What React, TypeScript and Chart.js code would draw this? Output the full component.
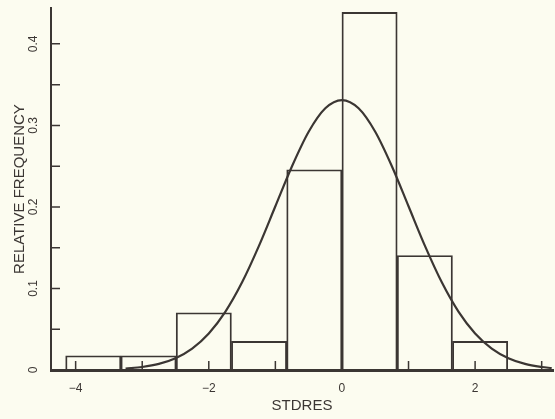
import { useEffect, useRef } from 'react';
import { Chart, registerables } from 'chart.js';

Chart.register(...registerables);

// Histogram bins (width ~0.83 standardized units)
const binCenters = [-3.735, -2.905, -2.075, -1.245, -0.415, 0.415, 1.245, 2.075];
const relFreq = [0.0175, 0.0175, 0.0702, 0.0351, 0.2456, 0.4386, 0.1404, 0.0351];

// Fitted normal curve
const curveX = [-3.25, -3.0, -2.75, -2.5, -2.25, -2.0, -1.75, -1.5, -1.25, -1.0, -0.75, -0.5, -0.25, 0,
  0.25, 0.5, 0.75, 1.0, 1.25, 1.5, 1.75, 2.0, 2.25, 2.5, 2.75, 3.0, 3.15];
const curveY = [0.0017, 0.0037, 0.0075, 0.0145, 0.0263, 0.0448, 0.0716, 0.1075, 0.1516, 0.2008, 0.2499, 0.2922, 0.321, 0.3311,
  0.321, 0.2922, 0.2499, 0.2008, 0.1516, 0.1075, 0.0716, 0.0448, 0.0263, 0.0145, 0.0075, 0.0037, 0.0023];

const xLabeledTicks = [-4, -2, 0, 2];
const yLabeledTicks = [0, 0.1, 0.2, 0.3, 0.4];

const INK = '#3b3633';
const PAPER = '#fcfcf0';
const FONT = '"Liberation Sans", Arial, sans-serif';

const innerTicks = {
  id: 'innerTicks',
  afterDraw(chart: any) {
    const { ctx, chartArea, scales } = chart;
    ctx.save();
    ctx.strokeStyle = INK;
    ctx.lineWidth = 1.5;
    ctx.beginPath();
    scales.x.ticks.forEach((t: any) => {
      const px = scales.x.getPixelForValue(t.value);
      ctx.moveTo(px, chartArea.bottom);
      ctx.lineTo(px, chartArea.bottom - 9);
    });
    scales.y.ticks.forEach((t: any) => {
      if (t.value === 0) return;
      const py = scales.y.getPixelForValue(t.value);
      ctx.moveTo(chartArea.left, py);
      ctx.lineTo(chartArea.left + 9, py);
    });
    ctx.stroke();
    ctx.restore();
  },
};

const paper = {
  id: 'paper',
  beforeDraw(chart: any) {
    const { ctx, width, height } = chart;
    ctx.save();
    ctx.fillStyle = PAPER;
    ctx.fillRect(0, 0, width, height);
    ctx.restore();
  },
};

export default function App() {
  const ref = useRef<HTMLCanvasElement | null>(null);
  useEffect(() => {
    document.body.style.margin = '0';
    document.body.style.background = PAPER;
    const canvas = ref.current!;
    const chart = new Chart(canvas, {
      type: 'bar',
      data: {
        datasets: [
          {
            type: 'line',
            data: curveX.map((x, i) => ({ x, y: curveY[i] })),
            borderColor: INK,
            borderWidth: 2.2,
            pointRadius: 0,
            cubicInterpolationMode: 'monotone',
            fill: false,
          } as any,
          {
            type: 'bar',
            data: binCenters.map((x, i) => ({ x, y: relFreq[i] })),
            backgroundColor: 'rgba(0,0,0,0)',
            borderColor: INK,
            borderWidth: 1.2,
            barPercentage: 1,
            categoryPercentage: 1,
          } as any,
        ],
      },
      options: {
        animation: false,
        responsive: false,
        layout: { padding: { top: 8, right: 2, left: 0, bottom: 0 } },
        plugins: { legend: { display: false }, tooltip: { enabled: false } },
        scales: {
          x: {
            type: 'linear',
            offset: false,
            min: -4.37,
            max: 3.17,
            grid: { drawOnChartArea: false, drawTicks: false, offset: false },
            border: { display: true, width: 3, color: INK },
            ticks: {
              stepSize: 1,
              includeBounds: false,
              autoSkip: false,
              maxRotation: 0,
              padding: 11,
              color: INK,
              font: { family: FONT, size: 12 },
              callback: (v: any) => (xLabeledTicks.includes(v) ? (v < 0 ? '\u2212' + Math.abs(v) : String(v)) : ''),
            },
            title: {
              display: true,
              text: 'STDRES',
              color: INK,
              font: { family: FONT, size: 15 },
              padding: { top: 4, bottom: 4 },
            },
            afterFit: (s: any) => { s.height = 49; s.paddingLeft = 0; s.paddingRight = 0; },
          },
          y: {
            type: 'linear',
            min: 0,
            max: 0.444,
            grid: { drawOnChartArea: false, drawTicks: false },
            border: { display: true, width: 2, color: INK },
            ticks: {
              stepSize: 0.05,
              includeBounds: false,
              autoSkip: false,
              minRotation: 90,
              maxRotation: 90,
              crossAlign: 'center',
              padding: 9,
              color: INK,
              font: { family: FONT, size: 12 },
              callback: (v: any) => (yLabeledTicks.some((t) => Math.abs(t - v) < 1e-6) ? (v === 0 ? '0' : Number(v).toFixed(1)) : ''),
            },
            title: {
              display: true,
              text: 'RELATIVE FREQUENCY',
              color: INK,
              font: { family: FONT, size: 15 },
              padding: { top: 11, bottom: 0 },
            },
            afterFit: (s: any) => { s.width = 51; s.paddingTop = 0; s.paddingBottom = 0; },
          },
        },
      } as any,
      plugins: [paper, innerTicks],
    });
    return () => chart.destroy();
  }, []);
  return (
    <canvas
      ref={ref}
      width={555}
      height={419}
      style={{ position: 'absolute', left: 0, top: 0, width: 555, height: 419 }}
    />
  );
}
